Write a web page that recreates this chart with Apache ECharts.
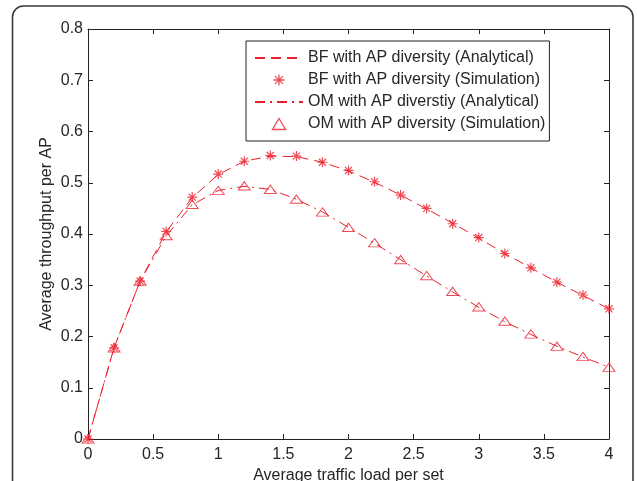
<!DOCTYPE html>
<html>
<head>
<meta charset="utf-8">
<script src="https://cdn.jsdelivr.net/npm/echarts@6/dist/echarts.min.js"></script>
<style>
html,body{margin:0;padding:0;background:#fff;}
#chart{width:637px;height:481px;}
</style>
</head>
<body>
<div id="chart"></div>
<script>
// ---- data ----
var xLoad = [0, 0.2, 0.4, 0.6, 0.8, 1.0, 1.2, 1.4, 1.6, 1.8, 2.0, 2.2, 2.4, 2.6, 2.8, 3.0, 3.2, 3.4, 3.6, 3.8, 4.0];
var bfAnalytical = [0, 0.178, 0.308, 0.404, 0.471, 0.516, 0.542, 0.552, 0.551, 0.540, 0.523, 0.501, 0.476, 0.449, 0.421, 0.392, 0.362, 0.334, 0.306, 0.280, 0.254];
var bfSimulation = [0, 0.178, 0.308, 0.405, 0.472, 0.517, 0.542, 0.553, 0.552, 0.540, 0.524, 0.502, 0.476, 0.450, 0.420, 0.393, 0.362, 0.334, 0.306, 0.281, 0.254];
var omAnalytical = [0, 0.178, 0.308, 0.396, 0.457, 0.485, 0.493, 0.487, 0.468, 0.443, 0.413, 0.382, 0.350, 0.318, 0.287, 0.257, 0.229, 0.204, 0.181, 0.160, 0.140];
var omSimulation = [0, 0.178, 0.308, 0.397, 0.458, 0.485, 0.494, 0.487, 0.468, 0.443, 0.413, 0.383, 0.350, 0.319, 0.288, 0.258, 0.230, 0.205, 0.181, 0.161, 0.140];
var seriesNames = [
  'BF with AP diversity (Analytical)',
  'BF with AP diversity (Simulation)',
  'OM with AP diverstiy (Analytical)',
  'OM with AP diversity (Simulation)'
];
var xTitle = 'Average traffic load per set';
var yTitle = 'Average throughput per AP';

function pairs(xs, ys) { return xs.map(function (x, i) { return [x, ys[i]]; }); }

var RED = '#ec1f2b';
var TXT = '#262626';
var AX = '#222';
var FONT = 'Liberation Sans, Arial, sans-serif';
var asterisk = 'path://M5 0 L5 10 M0 5 L10 5 M1.46 1.46 L8.54 8.54 M8.54 1.46 L1.46 8.54';
var triangle = 'path://M6 0 L12 10 L0 10 Z';

var chart = echarts.init(document.getElementById('chart'), null, {renderer: 'canvas'});
function axisCommon() {
  return {
    axisLine: {show: true, onZero: false, lineStyle: {color: AX, width: 1}},
    axisTick: {show: true, inside: true, length: 5, lineStyle: {color: AX}},
    splitLine: {show: false}
  };
}
var hiddenSym = {color: 'none', borderWidth: 0, opacity: 0};
chart.setOption({
  animation: false,
  backgroundColor: '#fff',
  textStyle: {fontFamily: FONT},
  grid: {left: 88, top: 29, right: 28, bottom: 42, containLabel: false, outerBoundsMode: 'none'},
  graphic: [{
    type: 'rect',
    shape: {x: 12.5, y: 6, width: 620.5, height: 520, r: 11},
    style: {fill: 'none', stroke: '#3a3a3a', lineWidth: 1.6},
    silent: true, z: 0
  }],
  legend: {
    orient: 'vertical',
    left: 246, top: 41,
    padding: [9, 4, 9, 8],
    itemWidth: 48, itemHeight: 11, itemGap: 6,
    symbolKeepAspect: true,
    borderColor: AX, borderWidth: 1,
    backgroundColor: '#fff',
    itemStyle: {borderWidth: 1.3},
    textStyle: {fontSize: 16, color: TXT, fontFamily: FONT},
    data: [
      {name: seriesNames[0], itemStyle: hiddenSym},
      {name: seriesNames[1]},
      {name: seriesNames[2], itemStyle: hiddenSym},
      {name: seriesNames[3]}
    ]
  },
  xAxis: [
    Object.assign({
      type: 'value', min: 0, max: 4, interval: 0.5, position: 'bottom',
      name: xTitle, nameLocation: 'middle', nameGap: 29, nameMoveOverlap: false,
      nameTextStyle: {fontSize: 16, color: TXT, fontFamily: FONT},
      axisLabel: {fontSize: 16, color: TXT, margin: 8, fontFamily: FONT}
    }, axisCommon()),
    Object.assign({
      type: 'value', min: 0, max: 4, interval: 0.5, position: 'top',
      axisLabel: {show: false}
    }, axisCommon())
  ],
  yAxis: [
    Object.assign({
      type: 'value', min: 0, max: 0.8, interval: 0.1, position: 'left',
      name: yTitle, nameLocation: 'middle', nameGap: 33, nameRotate: 90, nameMoveOverlap: false,
      nameTextStyle: {fontSize: 16, color: TXT, fontFamily: FONT},
      axisLabel: {fontSize: 16, color: TXT, margin: 5, fontFamily: FONT}
    }, axisCommon()),
    Object.assign({
      type: 'value', min: 0, max: 0.8, interval: 0.1, position: 'right',
      axisLabel: {show: false}
    }, axisCommon())
  ],
  series: [
    {
      name: seriesNames[0], type: 'line', data: pairs(xLoad, bfAnalytical),
      symbol: 'none', showSymbol: false, color: RED,
      lineStyle: {color: RED, width: 1, type: [10, 6]}, z: 2
    },
    {
      name: seriesNames[1], type: 'scatter', data: pairs(xLoad, bfSimulation),
      symbol: asterisk, symbolSize: 10, symbolKeepAspect: true, color: RED,
      itemStyle: {color: 'none', borderColor: RED, borderWidth: 1.2}, z: 3
    },
    {
      name: seriesNames[2], type: 'line', data: pairs(xLoad, omAnalytical),
      symbol: 'none', showSymbol: false, color: RED,
      lineStyle: {color: RED, width: 1, type: [10, 5, 2, 5]}, z: 2
    },
    {
      name: seriesNames[3], type: 'scatter', data: pairs(xLoad, omSimulation),
      symbol: triangle, symbolSize: [12, 10], symbolKeepAspect: true, color: RED,
      itemStyle: {color: 'none', borderColor: RED, borderWidth: 1}, z: 3
    }
  ]
});
</script>
</body>
</html>
